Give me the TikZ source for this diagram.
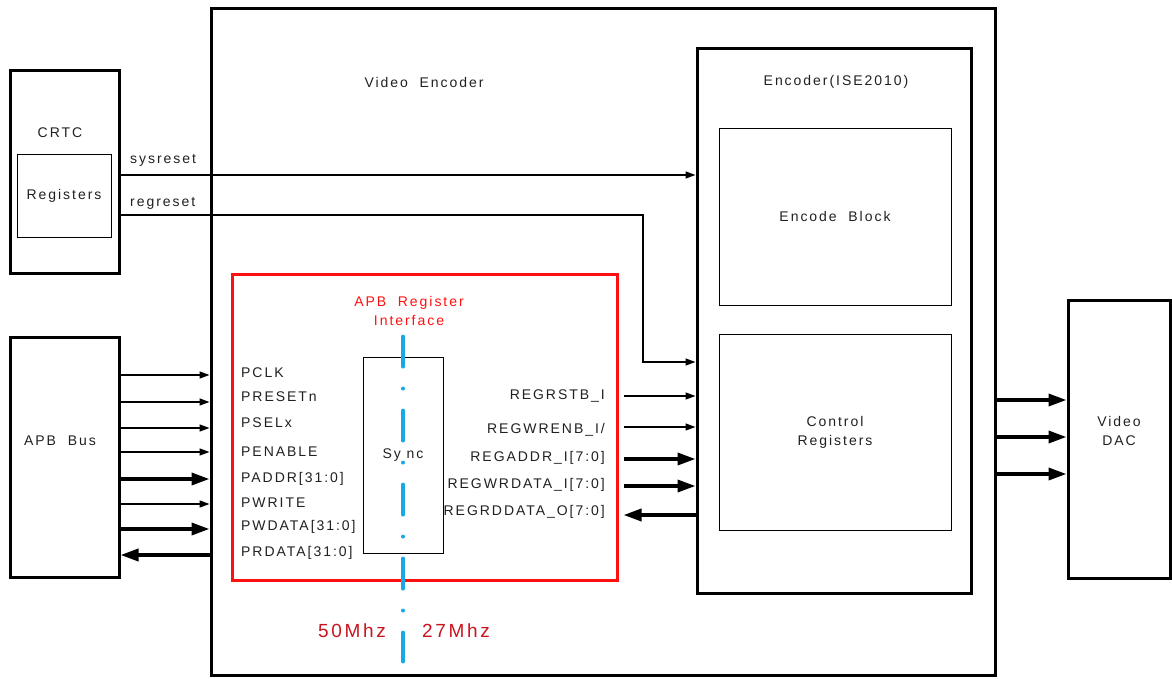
\documentclass[tikz,border=0pt]{standalone}
\usepackage{fontspec}
\setmainfont{Liberation Sans}[LetterSpace=14]
\usetikzlibrary{arrows.meta, positioning, calc}
\definecolor{vred}{HTML}{FF1010}
\definecolor{vdarkred}{HTML}{C8141E}
\definecolor{vblue}{HTML}{18A8E6}
\definecolor{vtext}{HTML}{202020}

\tikzset{
  blk/.style={draw, line width=3pt, inner sep=0pt},
  subblk/.style={draw, line width=0.9pt, inner sep=0pt, align=center},
  lbl/.style={font=\fontsize{14}{19}\selectfont, text=vtext, inner sep=0pt, align=center},
  sig/.style={line width=1.4pt, -{Triangle[length=10pt, width=7pt]}},
  bus/.style={line width=3.5pt, -{Triangle[length=18pt, width=12pt]}},
  clk/.style={font=\fontsize{19}{22}\selectfont, text=vdarkred, inner sep=0pt},
  syncline/.style={vblue, line width=4pt, line cap=round,
    dash pattern=on 30pt off 22pt on 0pt off 22pt},
}

\begin{document}
\begin{tikzpicture}[x=1pt, y=-1pt]
\useasboundingbox (0,0) rectangle (1172,678);
% outer blocks
\node[blk, minimum width=784pt, minimum height=667pt] (venc) at (603,341.5) {};
\node[lbl] (venclbl) at (424,82) {Video \ Encoder};
\node[blk, minimum width=109pt, minimum height=203pt] (crtc) at (64.5,171.5) {};
\node[lbl] (crtclbl) at (60,133) {CRTC};
\node[subblk, lbl, minimum width=94pt, minimum height=83pt] (crtcreg) at (64,195.5) {Registers};
\node[blk, minimum width=109pt, minimum height=240pt] (apb) at (64.5,457) {};
\node[lbl] (apblbl) at (60,441) {APB \ Bus};
\node[blk, minimum width=102pt, minimum height=278pt] (dac) at (1119,439) {};
\node[lbl] (daclbl) at (1119,431) {Video\\DAC};
% encoder
\node[blk, minimum width=274pt, minimum height=545pt] (enc) at (834,320.5) {};
\node[lbl] (enclbl) at (836,82) {Encoder(ISE2010)};
\node[subblk, lbl, minimum width=232pt, minimum height=177pt] (encblk) at (835,216.5) {Encode \ Block};
\node[subblk, lbl, minimum width=232pt, minimum height=196pt] (ctrlreg) at (835,432) {Control\\Registers};
% register interface
\node[blk, draw=vred, minimum width=385pt, minimum height=306pt] (apbif) at (424.5,427) {};
\node[lbl, text=vred] (apbiflbl) at (409,311) {APB \ Register\\Interface};
\node[subblk, lbl, minimum width=80pt, minimum height=196pt] (sync) at (403,455) {Sy nc};
\draw[syncline] ($(sync.north)+(0,-20)$) -- ($(sync.south)+(0,108)$);
\node[clk] (clkin) at (352,631) {50Mhz};
\node[clk] (clkout) at (456,631) {27Mhz};

% reset lines
\node[lbl, anchor=west] (sysrst) at (130,160) {sysreset};
\node[lbl, anchor=west] (regrst) at (130,203) {regreset};
\draw[sig] (crtc.east |- 0,175) -- (enc.west |- 0,175);
\draw[sig] (crtc.east |- 0,215) -- (643,215) -- (643,362) -- (enc.west |- 0,362);

% apb side
\node[lbl, anchor=west] (pclk) at (241,373) {PCLK};
\node[lbl, anchor=west] (presetn) at (241,397) {PRESETn};
\node[lbl, anchor=west] (psel) at (241,423) {PSELx};
\node[lbl, anchor=west] (penable) at (241,452) {PENABLE};
\node[lbl, anchor=west] (paddr) at (241,479) {PADDR[31:0]};
\node[lbl, anchor=west] (pwrite) at (241,503) {PWRITE};
\node[lbl, anchor=west] (pwdata) at (241,527) {PWDATA[31:0]};
\node[lbl, anchor=west] (prdata) at (241,553) {PRDATA[31:0]};
\draw[sig] (apb.east |- 0,375) -- (venc.west |- 0,375);
\draw[sig] (apb.east |- 0,402) -- (venc.west |- 0,402);
\draw[sig] (apb.east |- 0,428) -- (venc.west |- 0,428);
\draw[sig] (apb.east |- 0,452) -- (venc.west |- 0,452);
\draw[bus] (apb.east |- 0,479) -- (venc.west |- 0,479);
\draw[sig] (apb.east |- 0,504) -- (venc.west |- 0,504);
\draw[bus] (apb.east |- 0,529) -- (venc.west |- 0,529);
\draw[bus] (venc.west |- 0,555) -- (apb.east |- 0,555);

% encoder side
\node[lbl, anchor=east] (regrstb) at (605,396) {REGRSTB\_I};
\node[lbl, anchor=east] (regwrenb) at (605,430) {REGWRENB\_I/};
\node[lbl, anchor=east] (regaddr) at (605,458) {REGADDR\_I[7:0]};
\node[lbl, anchor=east] (regwrdata) at (605,485) {REGWRDATA\_I[7:0]};
\node[lbl, anchor=east] (regrddata) at (605,512) {REGRDDATA\_O[7:0]};
\draw[sig] ([xshift=5pt]apbif.east |- 0,396) -- (enc.west |- 0,396);
\draw[sig] ([xshift=5pt]apbif.east |- 0,427) -- (enc.west |- 0,427);
\draw[bus] ([xshift=5pt]apbif.east |- 0,459) -- (enc.west |- 0,459);
\draw[bus] ([xshift=5pt]apbif.east |- 0,486) -- (enc.west |- 0,486);
\draw[bus] (enc.west |- 0,515) -- ([xshift=5pt]apbif.east |- 0,515);

% dac side
\draw[bus] (venc.east |- 0,400) -- (dac.west |- 0,400);
\draw[bus] (venc.east |- 0,437) -- (dac.west |- 0,437);
\draw[bus] (venc.east |- 0,474) -- (dac.west |- 0,474);
\end{tikzpicture}
\end{document}
